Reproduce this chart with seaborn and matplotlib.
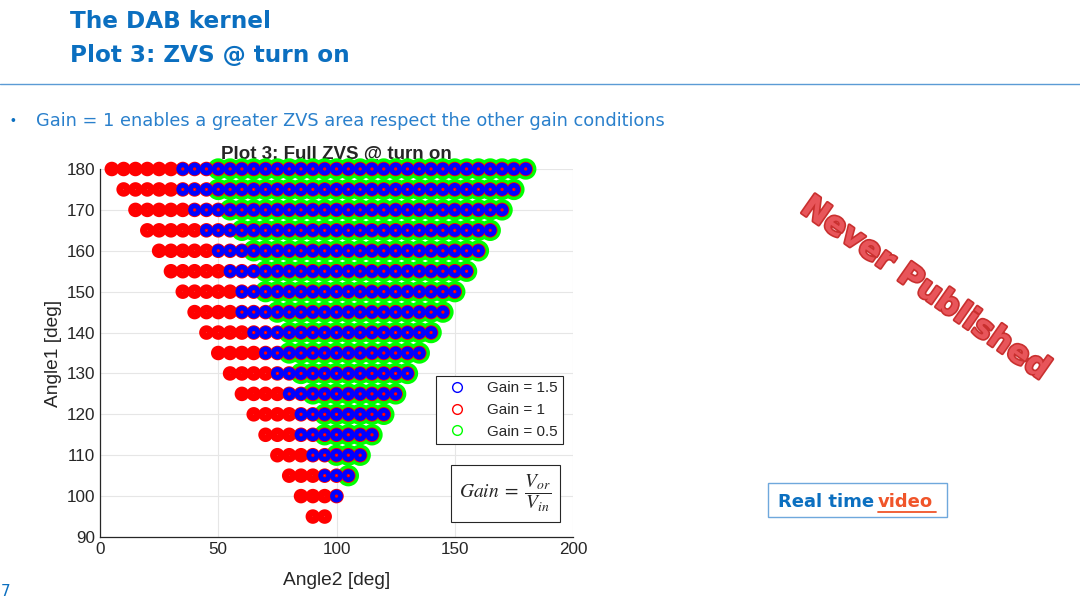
import numpy as np
import pandas as pd
import matplotlib
matplotlib.use("Agg")
import matplotlib.pyplot as plt
import matplotlib.patheffects as pe
from matplotlib.lines import Line2D
from matplotlib.patches import Rectangle
import seaborn as sns

# Angle1 rows [deg] of the sweep
angle1_rows = [180, 175, 170, 165, 160, 155, 150, 145, 140, 135, 130, 125, 120, 115, 110, 105, 100, 95]
# first / last Angle2 [deg] of each row
row_first = [5, 10, 15, 20, 25, 30, 35, 40, 45, 50, 55, 60, 65, 70, 75, 80, 85, 90]
row_last = [180, 175, 170, 165, 160, 155, 150, 145, 140, 135, 130, 125, 120, 115, 110, 105, 100, 95]
# first Angle2 with full ZVS for the other gains (None = no ZVS point in the row)
gain15_first = [35, 35, 40, 45, 50, 55, 60, 60, 65, 70, 75, 80, 85, 85, 90, 95, 100, None]
gain05_first = [50, 50, 55, 60, 65, 70, 70, 75, 80, 80, 85, 90, 95, 95, 100, 105, None, None]
angle2_step = 5

gain_labels = ["Gain = 1.5", "Gain = 1", "Gain = 0.5"]
gain_colors = ["#0000FF", "#FF0000", "#00FF00"]

x_ticks = [0, 50, 100, 150, 200]
y_ticks = [90, 100, 110, 120, 130, 140, 150, 160, 170, 180]

BLUE = "#0B6FC0"
W, H = 1080, 600


def zvs_points(first_list):
    pts = []
    for a1, start, end in zip(angle1_rows, first_list, row_last):
        if start is None:
            continue
        for a2 in range(start, end + 1, angle2_step):
            pts.append((a2, a1))
    return pd.DataFrame(pts, columns=["Angle2", "Angle1"])


def px(x, y):
    return x / W, 1 - y / H


sns.set_style("white")
plt.rcParams["font.family"] = ["Liberation Sans", "DejaVu Sans"]
plt.rcParams["mathtext.fontset"] = "stix"

fig = plt.figure(figsize=(10.8, 6), dpi=100)
fig.patch.set_facecolor("white")

# ---- slide header ----
slide_font = ["DejaVu Sans"]
fig.text(*px(70, 21), "The DAB kernel", fontsize=16.7, fontweight="bold", color=BLUE,
         family=slide_font, ha="left", va="center")
fig.text(*px(70, 55), "Plot 3: ZVS @ turn on", fontsize=16.7, fontweight="bold", color=BLUE,
         family=slide_font, ha="left", va="center")
fig.add_artist(Line2D([0, 1], [1 - 84 / H, 1 - 84 / H], color="#5B9BD5", lw=1.0))
fig.text(*px(13, 121), "•", fontsize=10, color=BLUE, ha="center", va="center")
fig.text(*px(36, 121), "Gain = 1 enables a greater ZVS area respect the other gain conditions",
         fontsize=12.8, color="#2A80CC", family=slide_font, ha="left", va="center")
fig.text(*px(1, 592), "7", fontsize=11, color=BLUE, family=slide_font,
         ha="left", va="center")

# ---- plot ----
ax = fig.add_axes([100 / W, 1 - 537 / H, 473 / W, 368 / H])

green = zvs_points(gain05_first)
red = zvs_points(row_first)
blue = zvs_points(gain15_first)

common = dict(x="Angle2", y="Angle1", marker="o", facecolor="none",
              clip_on=False, zorder=5, legend=False, ax=ax)
sns.scatterplot(data=green, edgecolor=gain_colors[2], s=92, linewidth=5.8, **common)
sns.scatterplot(data=red, edgecolor=gain_colors[1], s=31, linewidth=4.9, **common)
sns.scatterplot(data=blue, edgecolor=gain_colors[0], s=34, linewidth=3.4, **common)

ax.set_xlim(0, 200)
ax.set_ylim(90, 180)
ax.set_xticks(x_ticks)
ax.set_yticks(y_ticks)
ax.grid(True, color="#E6E6E6", lw=0.8)
for s in ["top", "right"]:
    ax.spines[s].set_visible(False)
for s in ["left", "bottom"]:
    ax.spines[s].set_color("#262626")
    ax.spines[s].set_linewidth(0.9)
ax.tick_params(direction="in", length=4, width=0.8, colors="#262626", labelsize=12.3)
ax.set_xlabel("Angle2 [deg]", fontsize=13.8, color="#262626", labelpad=11)
ax.set_ylabel("Angle1 [deg]", fontsize=13.8, color="#262626", labelpad=3)
ax.set_title("Plot 3: Full ZVS @ turn on", fontsize=13.5, fontweight="bold", pad=8)

handles = [Line2D([], [], marker="o", ls="none", markersize=7, markerfacecolor="none",
                  markeredgecolor=c, markeredgewidth=1.0) for c in gain_colors]
leg = ax.legend(handles, gain_labels, loc="lower right", bbox_to_anchor=(0.979, 0.253),
                borderaxespad=0, fancybox=False, edgecolor="#262626", fontsize=11,
                framealpha=1, handletextpad=1.0, labelspacing=0.5, borderpad=0.35)
leg.get_frame().set_linewidth(0.8)
leg.set_zorder(7)

ax.text(0.857, 0.118, r"$Gain\;=\;\dfrac{V_{or}}{V_{in}}$", transform=ax.transAxes,
        fontsize=14, ha="center", va="center", zorder=7,
        bbox=dict(boxstyle="square,pad=0.4", fc="white", ec="#262626", lw=0.8))

# ---- right side annotations ----
fig.text(*px(925, 289), "Never Published", fontsize=23, fontweight="bold", color="#E8555A",
         family=slide_font, rotation=-35, rotation_mode="anchor", ha="center", va="center",
         path_effects=[pe.withStroke(linewidth=2.4, foreground="#C9302F")])

fig.add_artist(Rectangle(px(768, 517), 179 / W, 34 / H, transform=fig.transFigure,
                         fill=False, ec="#6FA8DC", lw=1.0))
fig.text(*px(778, 502), "Real time", fontsize=13, fontweight="bold", color=BLUE,
         family=slide_font, ha="left", va="center")
fig.text(*px(878, 502), "video", fontsize=13, fontweight="bold", color="#F0552A",
         family=slide_font, ha="left", va="center")
fig.add_artist(Line2D([878 / W, 936 / W], [1 - 512 / H, 1 - 512 / H], color="#F0552A", lw=1.3))

fig.savefig("out.png", dpi=100)
plt.close(fig)
